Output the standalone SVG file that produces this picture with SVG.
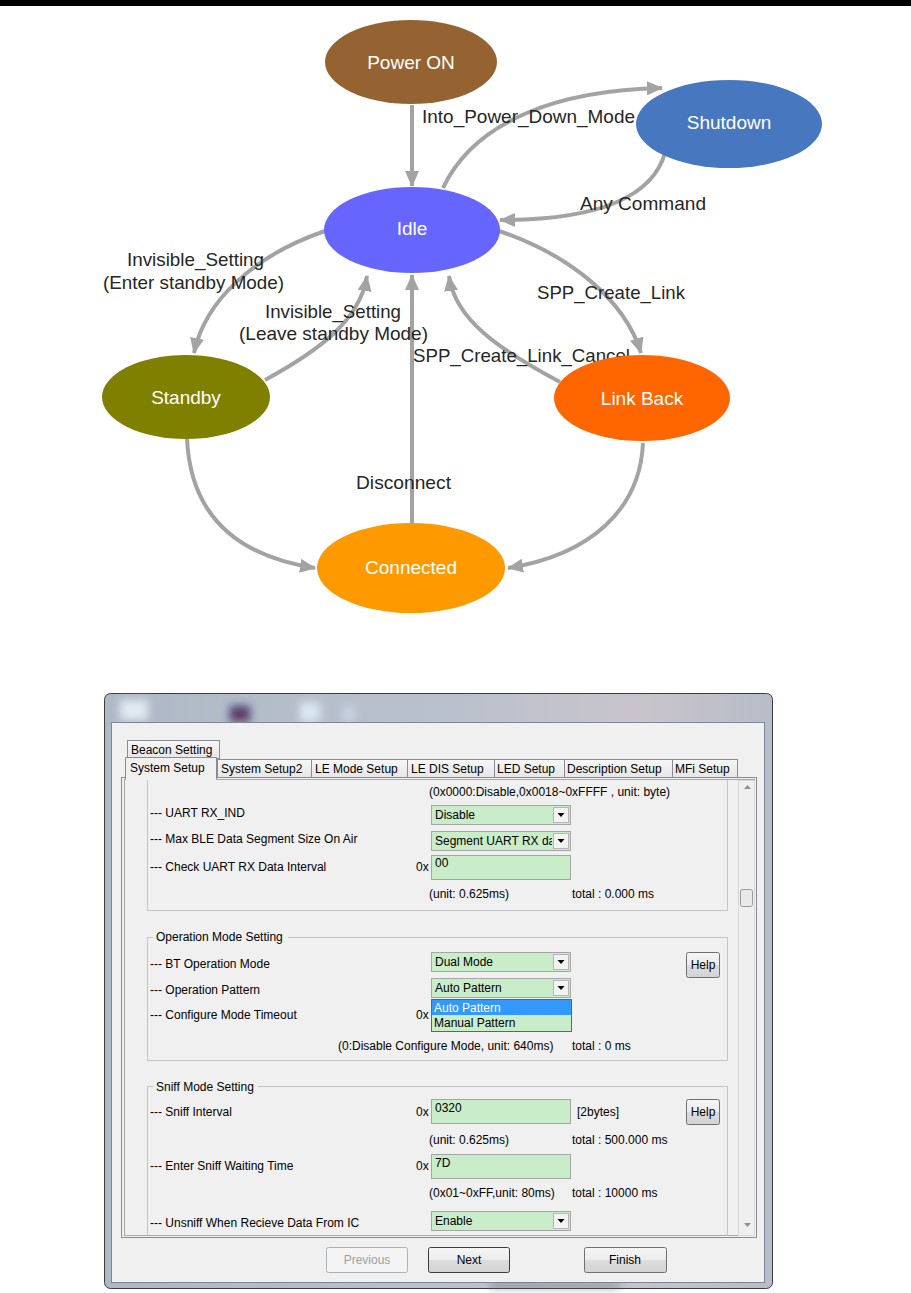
<svg xmlns="http://www.w3.org/2000/svg" width="911" height="1293" viewBox="0 0 911 1293">
<defs>
<style>
.node text{font-family:"Liberation Sans",Arial,sans-serif;font-size:19px;fill:#fff;text-anchor:middle}
.lbl{font-family:"Liberation Sans",Arial,sans-serif;font-size:19px;fill:#262626}
.edge{fill:none;stroke:#a3a3a3;stroke-width:4}
.d{font-family:"Liberation Sans",Arial,sans-serif;font-size:12px;fill:#000}
.tab{fill:url(#tabg);stroke:#898c95;stroke-width:1}
.grp{fill:none;stroke:#c4c4c4;stroke-width:1}
.fld{fill:#c9ecc9;stroke:#a5a5a5;stroke-width:1}
.btn{fill:url(#btng);stroke:#707070;stroke-width:1}
</style>
<marker id="ah" markerUnits="userSpaceOnUse" viewBox="0 0 16 14" markerWidth="16" markerHeight="14" refX="15" refY="7" orient="auto">
<path d="M0,0 L16,7 L0,14 z" fill="#a3a3a3"/>
</marker>
<linearGradient id="tabg" x1="0" y1="0" x2="0" y2="1"><stop offset="0" stop-color="#f7f7f7"/><stop offset="1" stop-color="#e6e6e6"/></linearGradient>
<linearGradient id="btng" x1="0" y1="0" x2="0" y2="1"><stop offset="0" stop-color="#f6f6f6"/><stop offset="0.5" stop-color="#ebebeb"/><stop offset="0.5" stop-color="#dddddd"/><stop offset="1" stop-color="#d2d2d2"/></linearGradient>
<linearGradient id="glass" x1="0" y1="0" x2="1" y2="0"><stop offset="0" stop-color="#aeb8c6"/><stop offset="0.5" stop-color="#b9c1cc"/><stop offset="0.8" stop-color="#c9c4cc"/><stop offset="1" stop-color="#b7bdc8"/></linearGradient>
<filter id="blur" x="-50%" y="-50%" width="200%" height="200%"><feGaussianBlur stdDeviation="4"/></filter>
<clipPath id="segclip"><rect x="432" y="832" width="120" height="18"/></clipPath>
<g id="combo">
<rect class="fld" x="0.5" y="0.5" width="139" height="19"/>
<rect x="122.5" y="2.5" width="15" height="15" fill="#f3f3f3" stroke="#b5b5b5"/>
<path d="M126.5,8 L133.5,8 L130,12 z" fill="#000"/>
</g>
</defs>

<rect x="0" y="0" width="911" height="6" fill="#000"/>

<g id="connectors">
<path class="edge" d="M412,105 L412,186" marker-end="url(#ah)"/>
<path class="edge" d="M443,188 C475,120 560,90 662,88" marker-end="url(#ah)"/>
<path class="edge" d="M665,153 C650,205 580,220 500,220" marker-end="url(#ah)"/>
<path class="edge" d="M325,231 C255,255 205,300 194,353" marker-end="url(#ah)"/>
<path class="edge" d="M265,380 C320,350 360,320 367,276" marker-end="url(#ah)"/>
<path class="edge" d="M499,231 C570,255 625,300 641,353" marker-end="url(#ah)"/>
<path class="edge" d="M560,382 C500,350 455,320 449,276" marker-end="url(#ah)"/>
<path class="edge" d="M412,523 L412,275" marker-end="url(#ah)"/>
<path class="edge" d="M187,438 C190,510 230,555 315,568" marker-end="url(#ah)"/>
<path class="edge" d="M643,443 C640,510 590,555 508,568" marker-end="url(#ah)"/>
<text class="lbl" x="422" y="123" textLength="213" lengthAdjust="spacingAndGlyphs">Into_Power_Down_Mode</text>
<text class="lbl" x="580" y="210" textLength="126" lengthAdjust="spacingAndGlyphs">Any Command</text>
<text class="lbl" x="127" y="266" textLength="137" lengthAdjust="spacingAndGlyphs">Invisible_Setting</text>
<text class="lbl" x="103" y="289" textLength="181" lengthAdjust="spacingAndGlyphs">(Enter standby Mode)</text>
<text class="lbl" x="265" y="318" textLength="136" lengthAdjust="spacingAndGlyphs">Invisible_Setting</text>
<text class="lbl" x="239" y="340" textLength="189" lengthAdjust="spacingAndGlyphs">(Leave standby Mode)</text>
<text class="lbl" x="537" y="299" textLength="148" lengthAdjust="spacingAndGlyphs">SPP_Create_Link</text>
<text class="lbl" x="413" y="362" textLength="217" lengthAdjust="spacingAndGlyphs">SPP_Create_Link_Cancel</text>
<text class="lbl" x="356" y="489" textLength="95" lengthAdjust="spacingAndGlyphs">Disconnect</text>
</g>

<g id="power-on" class="node"><ellipse cx="411" cy="62" rx="86" ry="42" fill="#956331"/><text x="411" y="69">Power ON</text></g>
<g id="shutdown" class="node"><ellipse cx="729" cy="124" rx="93" ry="44" fill="#4777be"/><text x="729" y="129">Shutdown</text></g>
<g id="idle" class="node"><ellipse cx="412" cy="230" rx="88" ry="43" fill="#6666ff"/><text x="412" y="235">Idle</text></g>
<g id="standby" class="node"><ellipse cx="186" cy="397" rx="84" ry="42" fill="#808000"/><text x="186" y="404">Standby</text></g>
<g id="link-back" class="node"><ellipse cx="642" cy="398" rx="88" ry="43" fill="#ff6600"/><text x="642" y="405">Link Back</text></g>
<g id="connected" class="node"><ellipse cx="411" cy="568" rx="94" ry="45" fill="#ff9900"/><text x="411" y="574">Connected</text></g>

<g id="dialog">
<rect x="104.5" y="693.5" width="668" height="595" rx="6" fill="url(#glass)" stroke="#3c3c3c"/>
<g filter="url(#blur)">
<rect x="120" y="700" width="28" height="20" fill="#e2eaf3"/>
<rect x="230" y="706" width="20" height="16" fill="#3a3a6e"/>
<rect x="236" y="712" width="10" height="8" fill="#7a3a5a"/>
<rect x="300" y="702" width="20" height="20" fill="#dce8f4"/>
<rect x="343" y="706" width="12" height="16" fill="#c8d6e6"/>
<rect x="490" y="1284" width="130" height="3" fill="#5a606e"/>
</g>
<rect x="111.5" y="722.5" width="653" height="560" fill="#f0f0f0" stroke="#7d8896"/>

<rect x="121.5" y="777.5" width="635" height="460" fill="#f0f0f0" stroke="#898c95"/>
<rect x="124.5" y="779.5" width="630" height="456" fill="none" stroke="#a9a9a9"/>

<rect class="tab" x="127.5" y="740.5" width="92" height="18"/>
<text class="d" x="131" y="754">Beacon Setting</text>
<rect class="tab" x="217.5" y="759.5" width="94" height="18"/>
<rect class="tab" x="311.5" y="759.5" width="96" height="18"/>
<rect class="tab" x="407.5" y="759.5" width="87" height="18"/>
<rect class="tab" x="494.5" y="759.5" width="70" height="18"/>
<rect class="tab" x="564.5" y="759.5" width="108" height="18"/>
<rect class="tab" x="672.5" y="759.5" width="65" height="18"/>
<path d="M125.5,779 L125.5,757.5 L216.5,757.5 L216.5,779" fill="#f0f0f0" stroke="#898c95"/>
<rect x="126" y="777" width="90" height="3" fill="#f0f0f0"/>
<text class="d" x="130" y="772">System Setup</text>
<text class="d" x="221" y="773">System Setup2</text>
<text class="d" x="315" y="773">LE Mode Setup</text>
<text class="d" x="411" y="773">LE DIS Setup</text>
<text class="d" x="497" y="773">LED Setup</text>
<text class="d" x="567" y="773">Description Setup</text>
<text class="d" x="675" y="773">MFi Setup</text>

<rect x="738.5" y="780.5" width="16" height="455" fill="#efefef" stroke="#d8d8d8"/>
<path d="M744,789 L751,789 L747.5,785 z" fill="#909090"/>
<path d="M744,1223 L751,1223 L747.5,1227 z" fill="#909090"/>
<rect x="740.5" y="889.5" width="12" height="17" rx="2" fill="#e9e9e9" stroke="#9a9a9a"/>

<path class="grp" d="M147.5,780 L147.5,910.5 L727.5,910.5 L727.5,780"/>
<text class="d" x="429" y="796">(0x0000:Disable,0x0018~0xFFFF , unit: byte)</text>
<text class="d" x="150" y="817">--- UART RX_IND</text>
<use href="#combo" x="431" y="805"/>
<text class="d" x="435" y="819">Disable</text>
<text class="d" x="150" y="843">--- Max BLE Data Segment Size On Air</text>
<use href="#combo" x="431" y="831"/>
<text class="d" x="435" y="845" clip-path="url(#segclip)">Segment UART RX da</text>
<text class="d" x="150" y="871">--- Check UART RX Data Interval</text>
<text class="d" x="416" y="871">0x</text>
<rect class="fld" x="431.5" y="855.5" width="139" height="24"/>
<text class="d" x="435" y="867">00</text>
<text class="d" x="429" y="898">(unit: 0.625ms)</text>
<text class="d" x="572" y="898">total : 0.000 ms</text>

<path class="grp" d="M153,937.5 L147.5,937.5 L147.5,1060.5 L727.5,1060.5 L727.5,937.5 L288,937.5"/>
<text class="d" x="156" y="941">Operation Mode Setting</text>
<text class="d" x="150" y="968">--- BT Operation Mode</text>
<use href="#combo" x="431" y="952"/>
<text class="d" x="435" y="966">Dual Mode</text>
<rect class="btn" x="686.5" y="952.5" width="33" height="25" rx="2"/>
<text class="d" x="703" y="969" text-anchor="middle">Help</text>
<text class="d" x="150" y="994">--- Operation Pattern</text>
<use href="#combo" x="431" y="978"/>
<text class="d" x="435" y="992">Auto Pattern</text>
<text class="d" x="150" y="1019">--- Configure Mode Timeout</text>
<text class="d" x="416" y="1019">0x</text>
<rect x="431.5" y="999.5" width="140" height="32" fill="#c9ecc9" stroke="#646464"/>
<rect x="432" y="1000" width="139" height="15" fill="#3399ff"/>
<text class="d" x="434" y="1012" style="fill:#fff">Auto Pattern</text>
<text class="d" x="434" y="1027">Manual Pattern</text>
<text class="d" x="338" y="1050">(0:Disable Configure Mode, unit: 640ms)</text>
<text class="d" x="572" y="1050">total : 0 ms</text>

<path class="grp" d="M153,1086.5 L147.5,1086.5 L147.5,1236 M727.5,1236 L727.5,1086.5 L258,1086.5"/>
<text class="d" x="156" y="1091">Sniff Mode Setting</text>
<text class="d" x="150" y="1116">--- Sniff Interval</text>
<text class="d" x="416" y="1116">0x</text>
<rect class="fld" x="431.5" y="1099.5" width="139" height="24"/>
<text class="d" x="435" y="1112">0320</text>
<text class="d" x="577" y="1116">[2bytes]</text>
<rect class="btn" x="686.5" y="1099.5" width="33" height="25" rx="2"/>
<text class="d" x="703" y="1116" text-anchor="middle">Help</text>
<text class="d" x="429" y="1144">(unit: 0.625ms)</text>
<text class="d" x="572" y="1144">total : 500.000 ms</text>
<text class="d" x="150" y="1170">--- Enter Sniff Waiting Time</text>
<text class="d" x="416" y="1170">0x</text>
<rect class="fld" x="431.5" y="1154.5" width="139" height="24"/>
<text class="d" x="435" y="1167">7D</text>
<text class="d" x="429" y="1197">(0x01~0xFF,unit: 80ms)</text>
<text class="d" x="572" y="1197">total : 10000 ms</text>
<text class="d" x="150" y="1227">--- Unsniff When Recieve Data From IC</text>
<use href="#combo" x="431" y="1211"/>
<text class="d" x="435" y="1225">Enable</text>

<rect x="326.5" y="1247.5" width="81" height="25" rx="2" fill="#f4f4f4" stroke="#adb2b5"/>
<text class="d" x="367" y="1264" text-anchor="middle" style="fill:#a0a0a0">Previous</text>
<rect class="btn" x="428.5" y="1247.5" width="81" height="25" rx="2" style="stroke:#3c3c3c"/>
<text class="d" x="469" y="1264" text-anchor="middle">Next</text>
<rect class="btn" x="584.5" y="1247.5" width="82" height="25" rx="2"/>
<text class="d" x="625" y="1264" text-anchor="middle">Finish</text>
</g>
</svg>
